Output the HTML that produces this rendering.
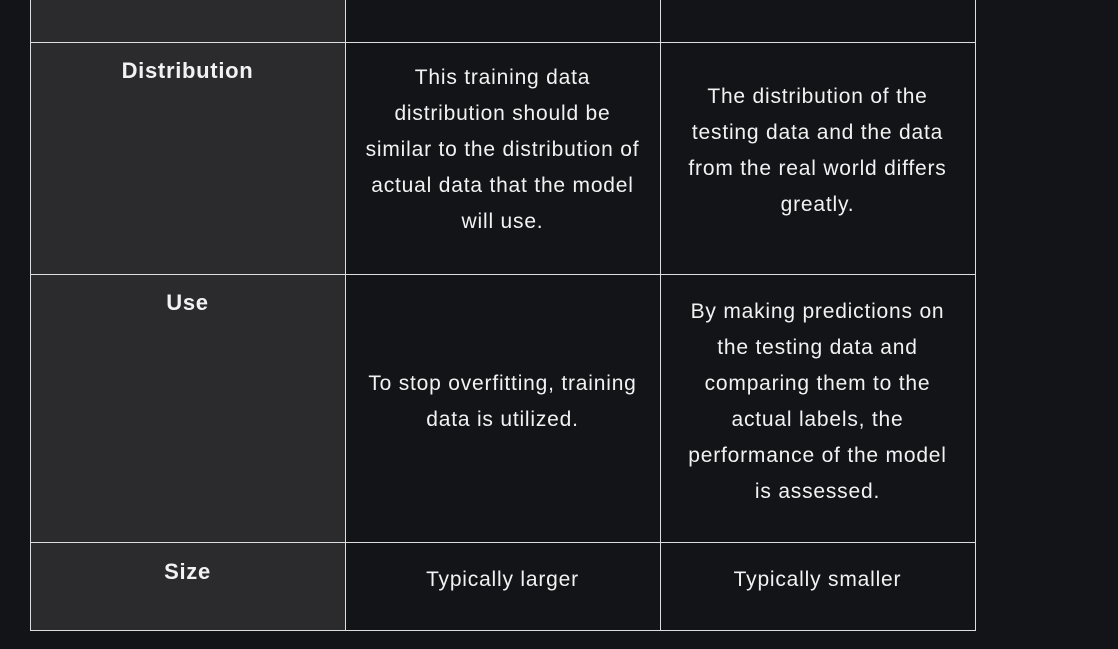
<!DOCTYPE html><html><head><style>
body{margin:0;width:1118px;height:649px;background:#131418;font-family:"Liberation Sans",sans-serif;color:#f2f2f2;position:relative;overflow:hidden}
.c{position:absolute;box-sizing:border-box}
.h{background:#2b2b2e}
.l{position:absolute;background:#ddd}
.t{position:absolute;text-align:center;font-size:21px;letter-spacing:0.8px;line-height:36px;width:315px;white-space:nowrap}
.b{font-weight:bold;font-size:22px;letter-spacing:0.7px}
</style></head><body>
<div class="c h" style="left:30px;top:0;width:315px;height:630px"></div>
<div class="l" style="left:30px;top:0;width:1px;height:631px"></div>
<div class="l" style="left:345px;top:0;width:1px;height:631px"></div>
<div class="l" style="left:660px;top:0;width:1px;height:631px"></div>
<div class="l" style="left:975px;top:0;width:1px;height:631px"></div>
<div class="l" style="left:30px;top:42px;width:946px;height:1px"></div>
<div class="l" style="left:30px;top:274px;width:946px;height:1px"></div>
<div class="l" style="left:30px;top:542px;width:946px;height:1px"></div>
<div class="l" style="left:30px;top:630px;width:946px;height:1px"></div>

<div class="t b" style="left:30px;top:53px">Distribution</div>
<div class="t" style="left:345px;top:60px;width:315px">This training data<br>distribution should be<br>similar to the distribution of<br>actual data that the model<br>will use.</div>
<div class="t" style="left:660px;top:79px">The distribution of the<br>testing data and the data<br>from the real world differs<br>greatly.</div>

<div class="t b" style="left:30px;top:285px">Use</div>
<div class="t" style="left:345px;top:366px">To stop overfitting, training<br>data is utilized.</div>
<div class="t" style="left:660px;top:294px">By making predictions on<br>the testing data and<br>comparing them to the<br>actual labels, the<br>performance of the model<br>is assessed.</div>

<div class="t b" style="left:30px;top:554px">Size</div>
<div class="t" style="left:345px;top:562px">Typically larger</div>
<div class="t" style="left:660px;top:562px">Typically smaller</div>
</body></html>
